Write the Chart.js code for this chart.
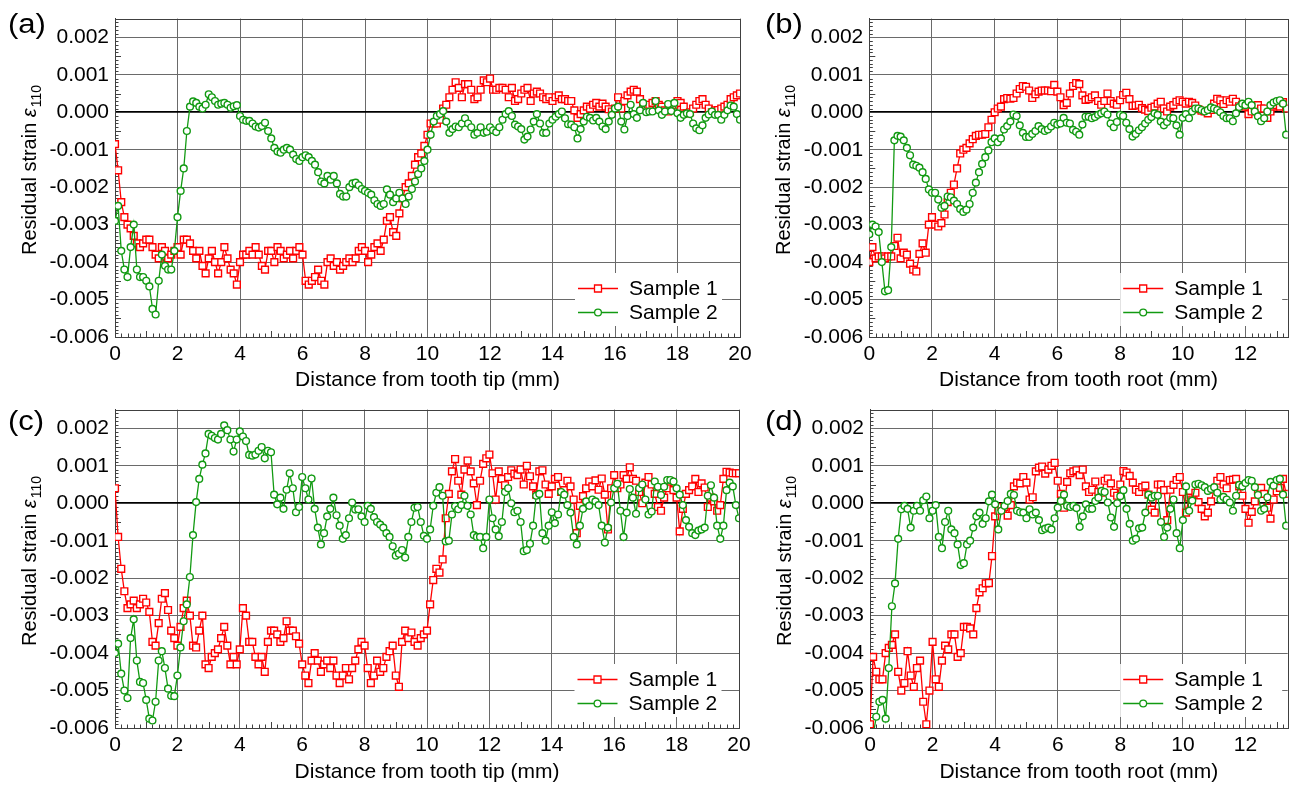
<!DOCTYPE html>
<html>
<head>
<meta charset="utf-8">
<title>Residual strain profiles</title>
<script src="https://cdn.jsdelivr.net/npm/chart.js@4.4.1/dist/chart.umd.min.js"></script>
<style>
  html, body { margin: 0; padding: 0; background: #fff; }
  #fig { position: relative; width: 1299px; height: 785px; overflow: hidden; }
  #fig canvas { position: absolute; }
</style>
</head>
<body>
<div id="fig">
  <canvas id="panelA" width="760" height="393" style="left:0;top:0"></canvas>
  <canvas id="panelB" width="545" height="393" style="left:754px;top:0"></canvas>
  <canvas id="panelC" width="760" height="394" style="left:0;top:391px"></canvas>
  <canvas id="panelD" width="544" height="394" style="left:755px;top:391px"></canvas>
</div>
<script>
// strain values are stored in units of 1e-4 (so -40 means -0.0040)
const strainTicks = [-60, -50, -40, -30, -20, -10, 0, 10, 20];
const strainTickLabels = ['-0.006', '-0.005', '-0.004', '-0.003', '-0.002', '-0.001', '0.000', '0.001', '0.002'];
const tipTicks = [0, 2, 4, 6, 8, 10, 12, 14, 16, 18, 20];
const rootTicks = [0, 2, 4, 6, 8, 10, 12];

// measurement positions, 0.1 mm apart
const tipDist = Array.from({ length: 201 }, (_, i) => i / 10);
const rootDist = Array.from({ length: 134 }, (_, i) => i / 10);

// (a) tooth tip, one row per mm
const tipSample1A = [
  -8.5, -15.5, -24, -28, -30, -31, -33, -35, -36, -35,
  -34, -34, -36, -38, -39, -36, -37, -39, -38, -37,
  -36, -38, -34, -34, -35, -37, -39, -37, -41, -43,
  -39, -37, -40, -43, -40, -36, -39, -42, -43, -46,
  -40, -38, -38, -37, -38, -36, -38, -41, -42, -37,
  -37, -40, -36, -37, -39, -38, -37, -39, -37, -36,
  -38, -45, -46, -45, -44, -42, -45, -46, -40, -39,
  -41, -40, -42, -41, -40, -39, -40, -39, -37, -36,
  -37, -40, -38, -36, -35, -37, -34, -29, -28, -32,
  -33, -27, -23, -20, -19, -17, -14, -12, -11, -9,
  -6, -3, -3, -3, -2, 1, 2, 4, 6, 8,
  6.5, 4, 7.5, 7.5, 6, 3.5, 4, 6, 8.5, 8,
  9, 6, 6, 6.5, 6.5, 6, 4, 6.5, 3, 3.5,
  5, 6, 6.5, 3, 5, 5.5, 5, 4, 3.5, 4,
  3, 4, 4.5, 3.5, 3.5, 3, 3, 0.5, -1.5, -0.5,
  0.5, 1.5, 1, 2, 2.5, 1.5, 2.3, 1.5, 0.8, 0.2,
  1, 4, 1, 3, 4.5, 5.5, 6, 5.5, 3.5, 2,
  1.5, 2, 2.5, 3, 2, 1.5, 0.5, 0.2, 1, 2,
  3, 2.5, 1.5, -0.3, 0, 1, 2, 3, 3.5, 2,
  1, 0, 0.5, 0.6, 1, 1.5, 2, 3.5, 4, 4.5,
  5
];
const tipSample2A = [
  -29, -25, -37, -42, -44, -36, -30, -42, -44, -44,
  -45, -46.5, -52.5, -54, -45, -38, -41, -42, -42, -37,
  -28, -21, -15, -5, 1.5, 2.9, 2.5, 1.5, 1, 2,
  4.8, 4, 3, 2, 2.3, 2.5, 2, 1.2, 1.6, 1.9,
  -1, -2, -2.3, -2.3, -3, -3.8, -4.1, -3.7, -2.8, -5,
  -7, -9.5, -10.5, -10.8, -10, -9.5, -10, -11.3, -12.5, -13,
  -12, -11.5, -12, -13, -14, -16, -18.5, -19, -17, -18,
  -17, -19, -21.8, -22.5, -22.5, -20, -19, -18.8, -19.5, -20.5,
  -21, -21.5, -22, -23.5, -24.5, -25, -24.5, -20.6, -22, -24,
  -23, -21.5, -23, -24.5, -22.5, -20.5, -18.5, -16.5, -15, -13,
  -10, -6, -2.5, -1, -0.5, 0.3, -2.5, -5.5, -4.5, -3.8,
  -4, -3, -1.6, -3, -4, -6, -5.5, -4, -5.5, -5.2,
  -4, -4.8, -5.3, -4, -2, -0.5, 0.3, -1, -3.3, -3.8,
  -4.5, -7.3, -6.5, -4.6, -2.5, -0.5, -3, -5.5, -5.5, -3,
  -2, -1.2, -0.5, 0.2, -1.6, -3.2, -3.3, -4, -7, -4.5,
  -2.5, -1.2, -1.5, -2.2, -1.5, -2.5, -3.8, -4.5, -2.5, -0.7,
  1, 1.5, -2.5, -4.6, -1, 2, -0.5, -1.5, 0.5, 2.5,
  0, 0.2, 0.2, 3, 0.5, -0.7, 0.2, 2.2, 0.3, 2.5,
  -0.3, -1.5, -0.7, -0.3, -0.5, -3, -4.3, -4.8, -3.5, -1.5,
  -0.6, 0.2, -0.7, -0.7, -2, -0.7, 0.5, 1.8, 1.5, -0.5,
  -2
];

// (b) tooth root
const rootSample1B = [
  -40, -36, -39, -38.5, -38.5, -39, -38.5, -38.5, -35.7, -33.5,
  -39, -37.5, -38, -40.4, -42, -42.5, -37.8, -35, -37.5, -30,
  -28, -30, -30.5, -29.6, -27.3, -24, -21.5, -19.3, -15, -11,
  -10, -9.5, -8.3, -7.2, -6.3, -6, -6, -5.8, -4, -2,
  0, 1, 1.5, 3.5, 3.8, 3.6, 3.8, 5, 6.2, 7,
  6.8, 5.8, 3.8, 4.8, 5.5, 5.8, 5.8, 5.8, 5.6, 7.3,
  5.5, 4, 1.9, 2.5, 5, 7, 7.8, 7.5, 4.5, 3.3,
  3.5, 4, 4.5, 3, 2, 3, 5, 3, 2.3, 2,
  3.2, 4.6, 5.2, 3.5, 1.7, 1.8, 2, 1.1, 0.7, 0.3,
  1.2, 1.5, 2.3, 2.8, 1, 0.2, 1.5, 1.9, 2.8, 3.2,
  2.8, 2.3, 2.8, 2.5, 1.8, 0.8, 0.4, 0.2, -0.3, 0.6,
  2.3, 3.6, 3.2, 2.2, 3.2, 2.8, 3.6, 2.8, 1.6, 1.9,
  1.5, -0.5, 0.2, 1.6, 1.9, 1, 1, -1.5, 0.2, 1.5,
  1.9, 1.5, 2.7, 1
];
const rootSample2B = [
  -32.6, -30, -30.5, -32, -40, -47.8, -47.5, -36, -7.5, -6.3,
  -6.5, -7.5, -9.5, -11.5, -14, -14.3, -14.8, -16, -17.8, -20.6,
  -21.5, -21.5, -23.3, -25.5, -25, -22.5, -22.7, -23.6, -24.5, -25.8,
  -26.6, -26, -24.5, -21.5, -18.8, -16, -13.8, -12, -10.2, -8,
  -7, -8, -7, -4.6, -3.7, -2.5, -0.6, -1, -3.5, -5.5,
  -6.6, -6.6, -5.8, -5, -3.7, -4.5, -5, -4.6, -3.8, -2.8,
  -3.3, -3, -1.5, -2.8, -3, -4.7, -5.2, -6, -3.3, -1.2,
  -1.2, -1.6, -1.3, -0.7, -0.3, 0.2, -0.6, -3, -4, -2.6,
  -0.7, -1, -2.8, -4.5, -6.5, -5.8, -4.8, -4, -3, -2,
  -1.3, -0.3, -0.7, -2.5, -3.5, -2.6, -1.5, -1.6, -3.5, -6,
  -1.5, -0.5, -1.6, 0.2, 1, 1, 0.6, 0.2, 0.6, 1.3,
  1, 0.6, 0, -1, -1.6, -1.6, -2.4, -0.3, 1.4, 2.3,
  1.9, 2.8, 1.9, 0.2, -1.1, -2.4, -1.6, 0.2, 1.9, 2.6,
  3, 3.2, 2.3, -6
];

// (c) tooth tip, second section
const tipSample1C = [
  4, -9, -17.5, -23.5, -28, -27, -26, -28, -27, -25.5,
  -26.5, -29, -37, -38, -32, -25.5, -24, -28.5, -34, -36,
  -38, -33, -28, -26, -30, -38, -38.5, -34, -30, -43,
  -44, -41, -40, -39, -36, -33, -38, -43, -41, -43,
  -39, -28, -30, -37, -37, -41, -43, -41, -45, -37,
  -34, -34, -35, -37, -36, -31.5, -34, -34, -35.5, -37.5,
  -43, -46, -48, -42, -40, -42, -45, -43, -42, -44,
  -42, -46, -48, -46, -44, -47, -44, -42, -39, -37,
  -38, -44, -48, -46, -42, -45, -44, -41, -39.5, -38,
  -46, -49, -37, -34, -36, -34.5, -37, -38, -36, -35,
  -34, -27, -20.5, -17.5, -18.5, -15, -4, 2.5, 8.5, 11.8,
  6, 2.3, 9, 11.4, 8.5, 5.3, -0.5, 6, 10.5, 12,
  13, 8, 1, 8.5, 6.5, 4.8, 7, 8.8, 7.9, 7.5,
  9, 5, 10, 7.2, 4.5, 2.3, 8.5, 8.8, 5, 2.5,
  4.5, 6.5, 7, 3, 3.5, 6, 4.5, 1, -8, -0.7,
  1.9, 4, 5.8, 4.5, 6.1, 3.6, 6.6, 2.3, -7, 4,
  7.5, 4, 5, 7.5, 6.5, 9.6, 6.5, 6, 3, 0,
  5.5, 7, 5, 2.5, -1, -2, 1.5, 4, 5.8, 3.5,
  1.5, -7.5, -1.5, 2.5, 3.5, 4.5, 6.5, 3, 5.3, 4.2,
  -1, 1.5, 0.5, -2, -0.5, 6.5, 8.4, 8.2, 8, 8,
  8
];
const tipSample2C = [
  -40, -37.5, -45.5, -50, -52, -36, -31, -42, -47.7, -48,
  -52.5, -57.5, -58, -53, -42, -39.5, -44, -49.5, -51.4, -51.5,
  -46, -38.5, -31.5, -27, -19.7, -8.5, 0.3, 6.5, 10.3, 13.3,
  18.5, 18, 17.4, 17, 18.5, 20.8, 19.5, 17, 13.8, 17,
  19.2, 17.8, 16.6, 12.9, 12.7, 13, 14, 15, 12, 14,
  13.6, 2.3, -0.3, 1.5, -1.5, 3.6, 8, 4, -2.4, -1,
  7, 4, 1, 6.6, -1.5, -6.5, -11, -8, -3.5, -1.5,
  1.5, -3.2, -6, -9.5, -8.5, -4, 0.2, -1.7, -1.6, -3.5,
  -5, -0.7, -1.5, -3.7, -5, -5.7, -6.5, -8, -9, -11.5,
  -14, -13.5, -12.5, -14.5, -9, -5, -1.2, -1, -5, -8.7,
  -9.5, -7, -0.7, 2.8, 4.3, 2, -10.2, -10, -3, -0.8,
  -1.6, -0.5, 2, -0.7, -3, -8.5, -9, -9, -12, -9,
  1, -4, -7, -8.8, -5, 3, 4, 0, -2.4, -2,
  -5, -12.8, -12.5, -10.8, -6, 2, 2.5, -8, -10, -6,
  -2.4, -5.3, -3, 3, 2.3, -0.5, -2.5, -9, -11, -6,
  -1.5, 0.5, -0.7, 1, 0.5, -0.5, -6, -10.5, -6.5, 0.2,
  4, 5.2, -2, -9, -2.5, 3.8, 1.5, -2.8, 4, 5,
  1, -3, -2.2, 5.8, 4.4, 2.2, 4.4, 6.2, 6.2, 5.8,
  4, 2.3, -0.5, -4.5, -6.3, -8, -8.5, -7.3, -7, -6.5,
  2, 4.8, 1.5, -6, -9.5, -6, 3.5, 5.5, 4.5, -0.5,
  -4
];

// (d) tooth root, second section
const rootSample1D = [
  -59, -41, -45, -47, -47, -40, -38.6, -37.8, -35, -45,
  -50, -48, -39.5, -46, -49, -44, -42, -53, -59, -50,
  -37, -47, -49, -42, -38, -39, -35, -35, -41, -40,
  -33, -33, -33.4, -35, -28, -23.8, -22.7, -21.4, -21.3, -14.1,
  -3.5, -2, -1, -1, -3.3, -0.5, 4.5, 5.5, 5.3, 7,
  5.5, 1, 1.6, 8.5, 9.5, 9.8, 7.9, 9, 10, 10.8,
  6, 2.5, -1.2, 5.7, 8, 8.5, 8.8, 7.5, 9, 4.5,
  3, 3.6, 5.8, 3, 2.8, 6, 6.6, 5.3, 2.8, 2,
  5, 8.6, 8.2, 7.3, 5.5, 3.6, 3, 4.3, 4.7, 2.3,
  -1.7, -2.5, 5, 5, 3.5, -4.5, 3.6, 4.9, 6.2, 7,
  3, -2.5, 1.5, 1, 2.8, 0.3, -1.5, -3.5, -2.5, 0.5,
  3.6, 6, 7, 5, 4, 6.2, 6.3, 6.5, 4.5, 2,
  -1.5, -5.2, -2.3, 0.5, 3.2, 4.1, 2.5, -1.2, -4.1, 1,
  3.2, 4.1, 6.5, 2.5
];
const rootSample2D = [
  -64, -62, -57, -53, -52.5, -57.5, -44, -27.5, -21.4, -9.5,
  -1.6, -0.7, -1.5, -6.5, -2, -0.7, -2, 0.8, 1.8, -4,
  -2, -0.5, -9, -12, -5, -2, -7, -8, -11, -16.5,
  -16, -11, -10, -6.5, -3.5, -2.5, -5.5, -4, 0.5, 2.3,
  -0.3, -7, -2, -0.7, 0.6, 2.5, 2.2, -2, -2.4, -2.5,
  -4, -1.6, -3, -2.5, -4.5, -7.2, -6.8, -6.5, -7, -4,
  -1.2, 0.6, 2.3, -0.7, -1, -0.7, -1.3, -6.3, -3.5, -0.3,
  -1.5, -1.5, 0.6, 1.5, 3.3, 3, 0.2, -3.8, -6.3, 0,
  1.9, 3.5, -1.5, -5.5, -10, -9.5, -6.7, -6.5, -2.5, 2.3,
  1.5, 2, 2, -5, -9, -6.5, -1.5, 1, -8, -12,
  -4.5, 4.5, -2, 0.7, 5, 5.2, 4.8, 4.3, 3.3, 3.8,
  4.3, 2.8, 1, 1.7, 1, 0.2, -2, 2, 4.9, 4.5,
  5.4, 6.2, 6, 4.3, 2.2, -2, -1.5, 1.6, 5.7, 4.7,
  6.2, 6.5, 2.3, -6
];

const FONT = '"Liberation Sans", Arial, Helvetica, sans-serif';
const RED = '#ff0000';
const GREEN = '#129a12';
const GRID = '#6a6a6a';
const FRAME = '#404040';

Chart.defaults.font.family = FONT;
Chart.defaults.color = '#000';

// frame, inner minor ticks, legend, panel letter and y title
const panelDecor = {
  id: 'panelDecor',
  beforeDatasetsDraw(chart, args, o) {
    const ctx = chart.ctx;
    const { left, right, top, bottom } = chart.chartArea;
    const xs = chart.scales.x, ys = chart.scales.y;
    ctx.save();
    ctx.strokeStyle = FRAME;
    ctx.lineWidth = 1;
    ctx.strokeRect(Math.round(left) + 0.5, Math.round(top) + 0.5,
      Math.round(right) - Math.round(left), Math.round(bottom) - Math.round(top));
    ctx.beginPath();
    // x minor ticks every 0.2 mm, longer at odd mm
    for (let k = 1; k / 5 < xs.max; k++) {
      if (k % 10 === 0) continue;
      const px = Math.round(xs.getPixelForValue(k / 5)) + 0.5;
      const len = k % 5 === 0 ? 6 : 3.5;
      ctx.moveTo(px, bottom);
      ctx.lineTo(px, bottom - len);
    }
    // y minor ticks every 0.0001, longer at 0.0005
    for (let v = ys.min + 1; v < ys.max; v++) {
      if (v % 10 === 0) continue;
      const py = Math.round(ys.getPixelForValue(v)) + 0.5;
      const len = v % 5 === 0 ? 6 : 3.5;
      ctx.moveTo(left, py);
      ctx.lineTo(left + len, py);
    }
    ctx.stroke();
    ctx.restore();
  },
  afterDatasetsDraw(chart, args, o) {
    const ctx = chart.ctx;
    const { right, bottom } = chart.chartArea;
    const lx = right - o.legendOffset;
    ctx.save();
    ctx.fillStyle = '#fff';
    ctx.fillRect(lx - 3, bottom - 64, o.legendWidth, 53);
    const rows = [
      { y: bottom - 48.5, color: RED, shape: 'rect', text: 'Sample 1' },
      { y: bottom - 24.5, color: GREEN, shape: 'circle', text: 'Sample 2' }
    ];
    ctx.font = '21px ' + FONT;
    ctx.textBaseline = 'middle';
    ctx.textAlign = 'left';
    rows.forEach(r => {
      ctx.strokeStyle = r.color;
      ctx.lineWidth = 1.3;
      ctx.beginPath();
      ctx.moveTo(lx, r.y);
      ctx.lineTo(lx + 40, r.y);
      ctx.stroke();
      ctx.fillStyle = '#fff';
      ctx.beginPath();
      if (r.shape === 'rect') ctx.rect(lx + 16.5, r.y - 3.5, 7, 7);
      else ctx.arc(lx + 20, r.y, 3.4, 0, Math.PI * 2);
      ctx.fill();
      ctx.stroke();
      ctx.fillStyle = '#000';
      ctx.fillText(r.text, lx + 51, r.y + 1);
    });
    ctx.restore();
  },
  afterDraw(chart, args, o) {
    const ctx = chart.ctx;
    ctx.save();
    ctx.fillStyle = '#000';
    // panel letter
    ctx.font = '27px ' + FONT;
    ctx.textBaseline = 'alphabetic';
    ctx.translate(o.letterX, o.letterY);
    ctx.scale(1.15, 1);
    ctx.fillText(o.letter, 0, 0);
    ctx.restore();

    // rotated y title with italic epsilon and subscript
    ctx.save();
    ctx.fillStyle = '#000';
    ctx.translate(36, o.yTitleCenter);
    ctx.rotate(-Math.PI / 2);
    const main = 'Residual strain ';
    const fMain = '20px ' + FONT, fEps = 'italic 20px ' + FONT, fSub = '14px ' + FONT;
    ctx.font = fMain; const wMain = ctx.measureText(main).width;
    ctx.font = fEps; const wEps = ctx.measureText('ε').width;
    ctx.font = fSub; const wSub = ctx.measureText('110').width;
    const x0 = -(wMain + wEps + 1 + wSub) / 2;
    ctx.textBaseline = 'alphabetic';
    ctx.font = fMain; ctx.fillText(main, x0, 0);
    ctx.font = fEps; ctx.fillText('ε', x0 + wMain, 0);
    ctx.font = fSub; ctx.fillText('110', x0 + wMain + wEps + 1, 4.5);
    ctx.restore();
  }
};

function makePanel(id, p) {
  const font = { family: FONT, size: 21 };
  return new Chart(document.getElementById(id), {
    type: 'line',
    data: {
      labels: p.x,
      datasets: [
        {
          label: 'Sample 1', data: p.s1, order: 1,
          borderColor: RED, borderWidth: 1.3,
          pointStyle: 'rect', pointRadius: 4.8, pointBorderWidth: 1.4,
          pointBorderColor: RED, pointBackgroundColor: '#fff'
        },
        {
          label: 'Sample 2', data: p.s2, order: 0,
          borderColor: GREEN, borderWidth: 1.3,
          pointStyle: 'circle', pointRadius: 3.4, pointBorderWidth: 1.4,
          pointBorderColor: GREEN, pointBackgroundColor: '#fff'
        }
      ]
    },
    options: {
      responsive: false,
      animation: false,
      events: [],
      layout: { padding: p.pad },
      plugins: {
        legend: { display: false },
        tooltip: { enabled: false },
        panelDecor: p.decor
      },
      scales: {
        x: {
          type: 'linear', min: 0, max: p.xMax,
          afterBuildTicks: s => { s.ticks = p.xTicks.map(v => ({ value: v })); },
          afterFit: s => { s.height = p.xAxisH; },
          grid: { color: GRID, lineWidth: 1, drawTicks: false },
          border: { color: FRAME },
          ticks: { font, color: '#000', padding: 5, maxRotation: 0, autoSkip: false, callback: v => String(v) },
          title: { display: true, text: p.xTitle, font, color: '#000', padding: 0 }
        },
        y: {
          type: 'linear', min: -60, max: 25,
          afterBuildTicks: s => { s.ticks = strainTicks.map(v => ({ value: v })); },
          afterFit: s => { s.width = p.yAxisW; },
          grid: {
            drawTicks: false,
            color: c => (c.tick && c.tick.value === 0 ? '#000' : GRID),
            lineWidth: c => (c.tick && c.tick.value === 0 ? 1.8 : 1)
          },
          border: { color: FRAME },
          ticks: { font, color: '#000', padding: 6, autoSkip: false, callback: (v, i) => strainTickLabels[i] }
        }
      }
    },
    plugins: [panelDecor]
  });
}

makePanel('panelA', {
  x: tipDist, s1: tipSample1A, s2: tipSample2A, xMax: 20, xTicks: tipTicks,
  xTitle: 'Distance from tooth tip (mm)',
  pad: { left: 0, top: 9.5, right: 20, bottom: 0 }, yAxisW: 115, xAxisH: 56,
  decor: { letter: '(a)', letterX: 8, letterY: 33, yTitleCenter: 170, legendOffset: 162, legendWidth: 147 }
});
makePanel('panelB', {
  x: rootDist, s1: rootSample1B, s2: rootSample2B, xMax: 13.35, xTicks: rootTicks,
  xTitle: 'Distance from tooth root (mm)',
  pad: { left: 0, top: 9.5, right: 11.3, bottom: 0 }, yAxisW: 115.3, xAxisH: 56,
  decor: { letter: '(b)', letterX: 11, letterY: 33, yTitleCenter: 170, legendOffset: 164.5, legendWidth: 162 }
});
makePanel('panelC', {
  x: tipDist, s1: tipSample1C, s2: tipSample2C, xMax: 20, xTicks: tipTicks,
  xTitle: 'Distance from tooth tip (mm)',
  pad: { left: 0, top: 9.7, right: 21, bottom: 0 }, yAxisW: 115, xAxisH: 57,
  decor: { letter: '(c)', letterX: 8, letterY: 39, yTitleCenter: 170, legendOffset: 161.5, legendWidth: 147 }
});
makePanel('panelD', {
  x: rootDist, s1: rootSample1D, s2: rootSample2D, xMax: 13.35, xTicks: rootTicks,
  xTitle: 'Distance from tooth root (mm)',
  pad: { left: 0, top: 9.7, right: 11.3, bottom: 0 }, yAxisW: 115, xAxisH: 57,
  decor: { letter: '(d)', letterX: 10, letterY: 39, yTitleCenter: 170, legendOffset: 164.5, legendWidth: 162 }
});
</script>
</body>
</html>
